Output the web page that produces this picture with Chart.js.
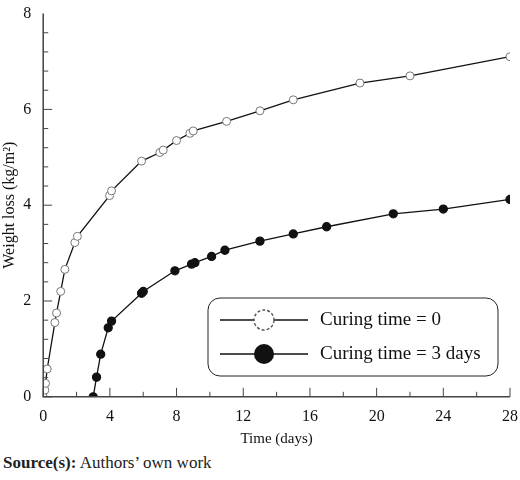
<!DOCTYPE html>
<html>
<head>
<meta charset="utf-8">
<script src="https://cdn.jsdelivr.net/npm/chart.js@4.4.0/dist/chart.umd.min.js"></script>
<style>
  body { margin: 0; background: #fff; }
  #wrap { position: relative; width: 520px; height: 480px; }
  #src { position: absolute; left: 3px; top: 453px; font-family: "Liberation Serif", "Times New Roman", serif; font-size: 17px; color: #222; }
</style>
</head>
<body>
<div id="wrap">
  <canvas id="c" width="520" height="450"></canvas>
  <div id="src"><b>Source(s):</b> Authors’ own work</div>
</div>
<script>
// curing time = 0
const days0 = [0, 0.1, 0.14, 0.24, 0.7, 0.8, 1.05, 1.3, 1.9, 2.05, 3.98, 4.1, 5.9, 7, 7.2, 8, 8.8, 9, 11, 13, 15, 19, 22, 28];
const loss0 = [0, 0.14, 0.28, 0.58, 1.55, 1.75, 2.2, 2.66, 3.22, 3.35, 4.2, 4.3, 4.92, 5.1, 5.15, 5.35, 5.5, 5.55, 5.75, 5.97, 6.2, 6.55, 6.7, 7.1];
// curing time = 3 days
const days3 = [3, 3.2, 3.45, 3.9, 4.1, 5.9, 6, 7.9, 8.9, 9.1, 10.1, 10.9, 13, 15, 17, 21, 24, 28];
const loss3 = [0, 0.41, 0.89, 1.44, 1.58, 2.16, 2.2, 2.63, 2.77, 2.8, 2.93, 3.06, 3.25, 3.4, 3.55, 3.82, 3.92, 4.12];
const xTicks = [0, 4, 8, 12, 16, 20, 24, 28];
const yTicks = [0, 2, 4, 6, 8];
const legendLabels = ['Curing time = 0', 'Curing time = 3 days'];

const toXY = (xs, ys) => xs.map((x, i) => ({x: x, y: ys[i]}));
const serif = '"Liberation Serif", "Times New Roman", serif';

const frame = {
  id: 'frame',
  afterDraw(chart) {
    const c = chart.ctx, a = chart.chartArea;
    const sx = chart.scales.x, sy = chart.scales.y;
    c.save();
    c.strokeStyle = '#444'; c.lineWidth = 1.5;
    c.beginPath();
    c.moveTo(a.left, a.top); c.lineTo(a.left, a.bottom); c.lineTo(a.right, a.bottom);
    c.stroke();
    c.lineWidth = 1;
    for (let v = 0; v <= 28; v += 2) {
      const p = sx.getPixelForValue(v), len = v % 4 === 0 ? 9 : 5;
      c.beginPath(); c.moveTo(p, a.bottom); c.lineTo(p, a.bottom - len); c.stroke();
    }
    for (let v = 0; v <= 8; v += 0.4) {
      const p = sy.getPixelForValue(v), len = Math.abs(v / 2 - Math.round(v / 2)) < 0.01 ? 9 : 5;
      c.beginPath(); c.moveTo(a.left, p); c.lineTo(a.left + len, p); c.stroke();
    }
    // legend box
    const bx = 208, by = 298, bw = 290, bh = 78;
    c.strokeStyle = '#222'; c.lineWidth = 1;
    c.beginPath(); c.roundRect(bx, by, bw, bh, 12); c.stroke();
    c.font = '19px ' + serif; c.fillStyle = '#111'; c.textBaseline = 'middle';
    [0, 1].forEach(i => {
      const yy = by + 22 + i * 34;
      c.strokeStyle = '#111'; c.lineWidth = 1.4;
      c.beginPath(); c.moveTo(bx + 12, yy); c.lineTo(bx + 100, yy); c.stroke();
      c.beginPath(); c.arc(bx + 56, yy, 10, 0, Math.PI * 2);
      if (i === 0) { c.fillStyle = '#fff'; c.fill(); c.setLineDash([3, 2]); c.strokeStyle = '#555'; c.stroke(); c.setLineDash([]); }
      else { c.fillStyle = '#111'; c.fill(); }
      c.fillStyle = '#111';
      c.fillText(legendLabels[i], bx + 112, yy);
    });
    c.restore();
  }
};

new Chart(document.getElementById('c'), {
  type: 'line',
  data: {
    datasets: [
      { label: legendLabels[0], data: toXY(days0, loss0), borderColor: '#111', borderWidth: 1.3,
        pointRadius: 4, pointBackgroundColor: '#fff', pointBorderColor: '#777', pointBorderWidth: 1, tension: 0 },
      { label: legendLabels[1], data: toXY(days3, loss3), borderColor: '#111', borderWidth: 1.3,
        pointRadius: 4, pointBackgroundColor: '#111', pointBorderColor: '#111', tension: 0 }
    ]
  },
  options: {
    responsive: false,
    animation: false,
    layout: { padding: { top: 8, right: 8 } },
    plugins: { legend: { display: false }, tooltip: { enabled: false } },
    scales: {
      x: {
        type: 'linear', min: 0, max: 28,
        afterBuildTicks: s => { s.ticks = xTicks.map(v => ({value: v})); },
        grid: { display: false }, border: { display: false },
        ticks: { color: '#111', font: { family: serif, size: 16 }, padding: 2 },
        title: { display: true, text: 'Time (days)', color: '#111', font: { family: serif, size: 15 }, padding: 2 }
      },
      y: {
        min: 0, max: 8,
        afterBuildTicks: s => { s.ticks = yTicks.map(v => ({value: v})); },
        grid: { display: false }, border: { display: false },
        ticks: { color: '#111', font: { family: serif, size: 16 }, padding: 4 },
        title: { display: true, text: 'Weight loss (kg/m²)', color: '#111', font: { family: serif, size: 16 }, padding: 0 }
      }
    }
  },
  plugins: [frame]
});
</script>
</body>
</html>
